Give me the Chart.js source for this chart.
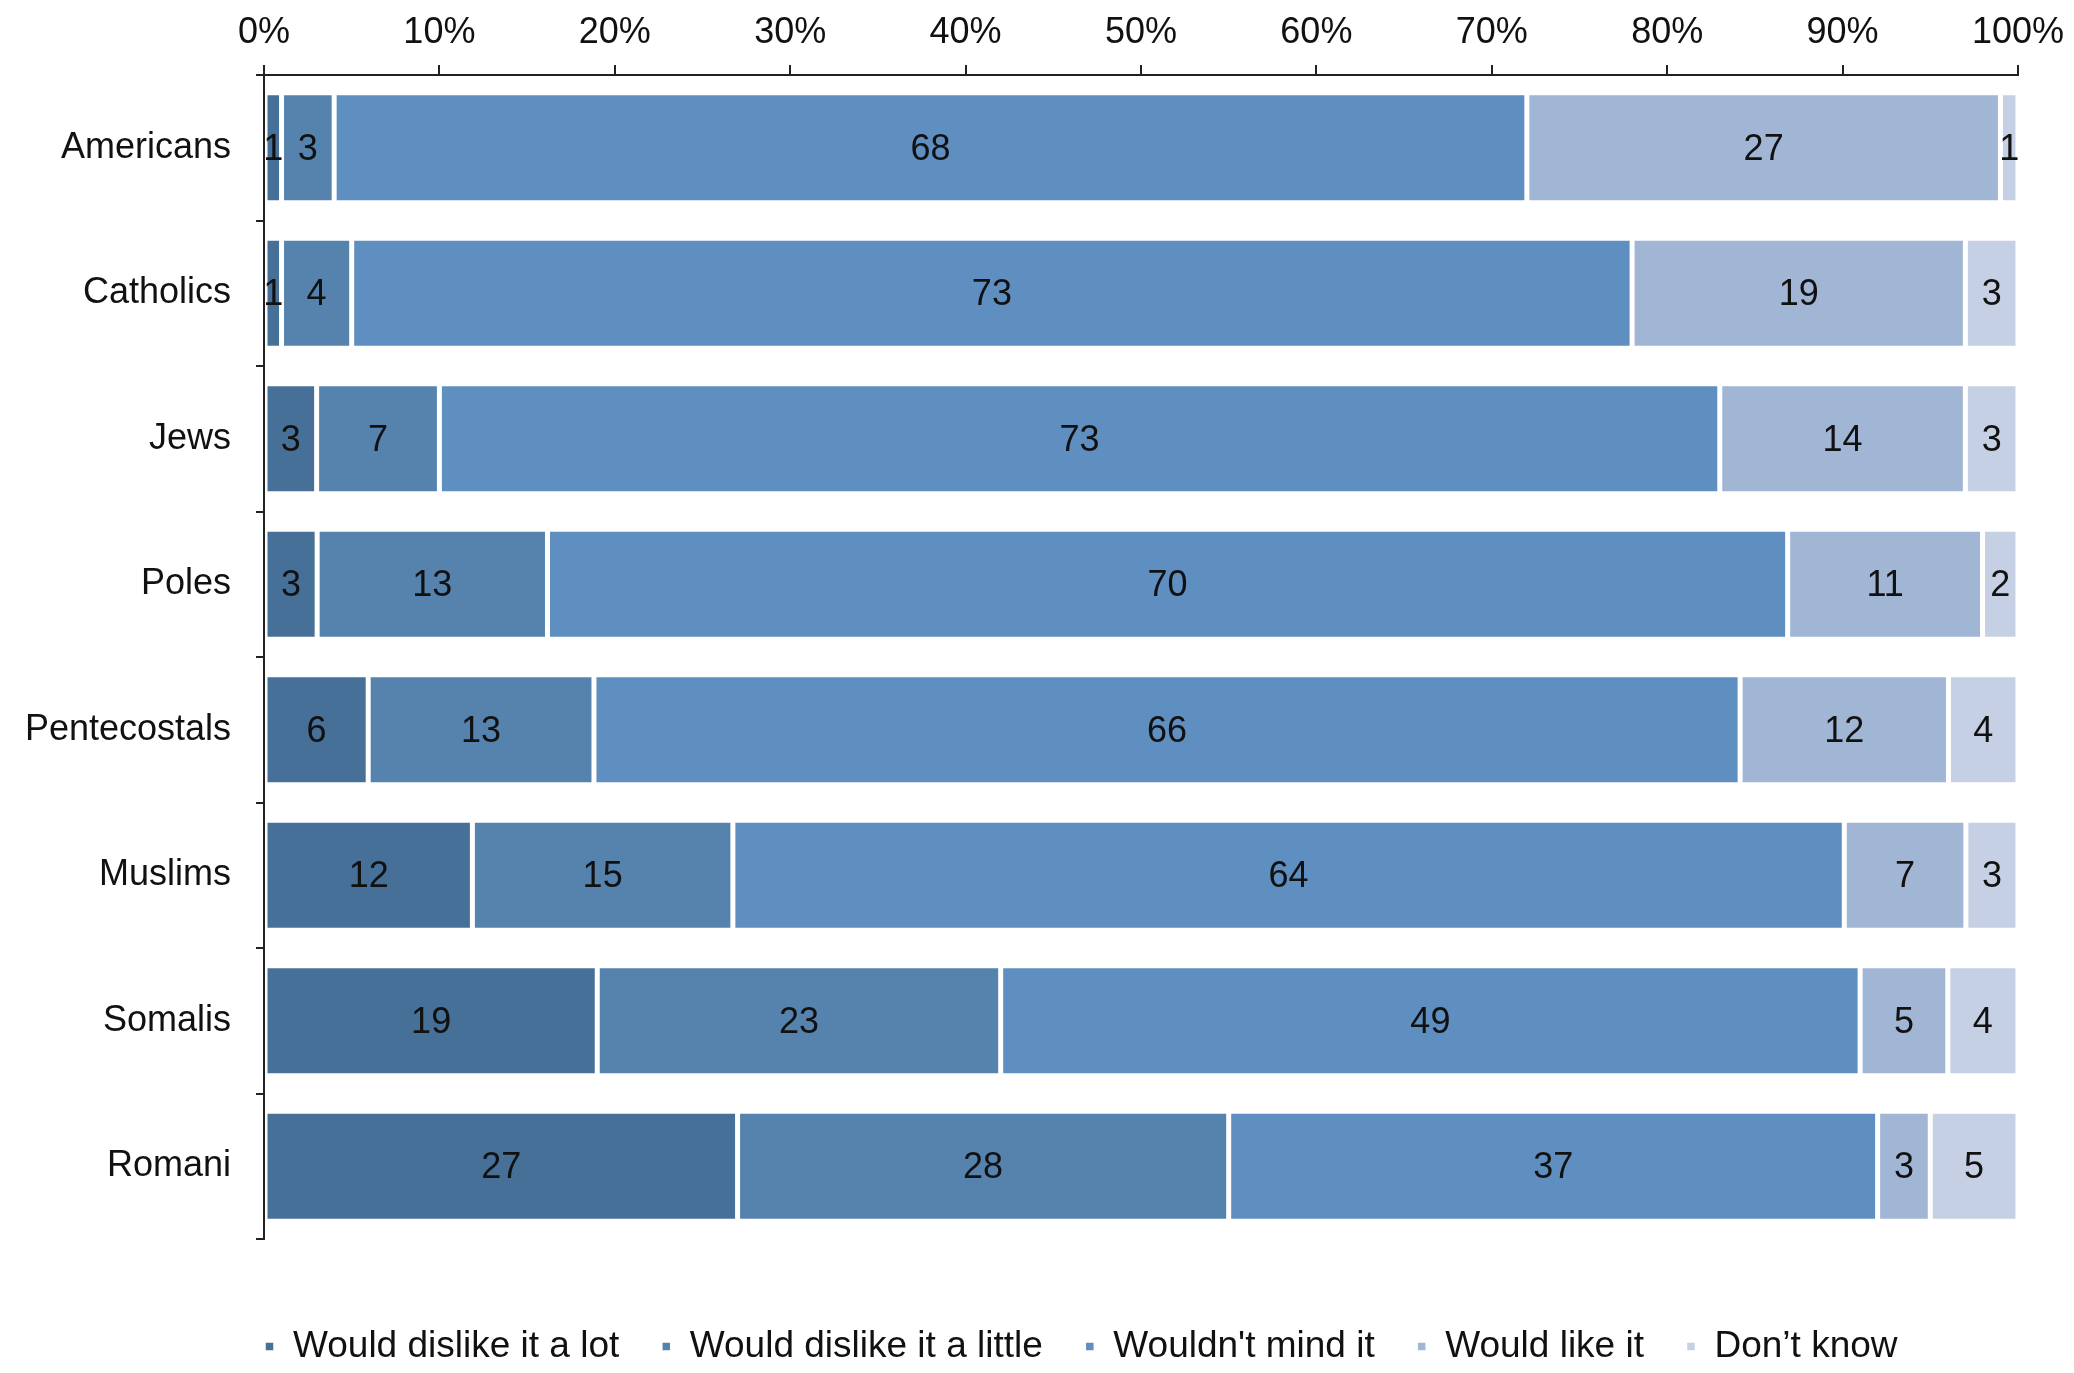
<!DOCTYPE html>
<html>
<head>
<meta charset="utf-8">
<script src="https://cdn.jsdelivr.net/npm/chart.js@4"></script>
<style>
  html, body { margin: 0; padding: 0; background: #fff; }
  #wrap { width: 2074px; height: 1373px; }
</style>
</head>
<body>
<div id="wrap"><canvas id="attitudeChart"></canvas></div>
<script>
// Values
const categories = ['Americans', 'Catholics', 'Jews', 'Poles', 'Pentecostals', 'Muslims', 'Somalis', 'Romani'];
const seriesNames = ['Would dislike it a lot', 'Would dislike it a little', "Wouldn't mind it", 'Would like it', 'Don\u2019t know'];
const dislikeLot    = [1, 1, 3, 3, 6, 12, 19, 27];
const dislikeLittle = [3, 4, 7, 13, 13, 15, 23, 28];
const wouldntMind   = [68, 73, 73, 70, 66, 64, 49, 37];
const wouldLike     = [27, 19, 14, 11, 12, 7, 5, 3];
const dontKnow      = [1, 3, 3, 2, 4, 3, 4, 5];
const seriesColors  = ['#467098', '#5583ae', '#5f8fc1', '#a1b5d5', '#c5d0e4'];

const allSeries = [dislikeLot, dislikeLittle, wouldntMind, wouldLike, dontKnow];
// 100% stacked: each row scaled to its own total
const totals = categories.map((c, i) => allSeries.reduce((s, arr) => s + arr[i], 0));

const FONT = 'Liberation Sans, Arial, Helvetica, sans-serif';

// draw the raw value in the middle of each segment
const segmentLabels = {
    id: 'segmentLabels',
    afterDatasetsDraw(chart) {
        const ctx = chart.ctx;
        ctx.save();
        ctx.font = '36px ' + FONT;
        ctx.fillStyle = '#111';
        ctx.textAlign = 'center';
        ctx.textBaseline = 'middle';
        chart.data.datasets.forEach((ds, di) => {
            chart.getDatasetMeta(di).data.forEach((el, i) => {
                const p = el.getCenterPoint();
                ctx.fillText(String(ds.raw[i]), p.x, p.y + 2);
            });
        });
        ctx.restore();
    }
};

// legend sits a bit right of the default centred spot
const legendNudge = {
    id: 'legendNudge',
    afterLayout(chart) {
        const lg = chart.legend;
        if (!lg) return;
        lg.top += 5; lg.bottom += 5;
        lg.left += 71; lg.right += 71;
    }
};

const ctx = document.getElementById('attitudeChart').getContext('2d');
const attitudeChart = new Chart(ctx, {
    type: 'bar',
    data: {
        labels: categories,
        datasets: allSeries.map((arr, k) => ({
            label: seriesNames[k],
            raw: arr,
            data: arr.map((v, i) => v / totals[i] * 100),
            backgroundColor: seriesColors[k],
            borderColor: '#ffffff',
            borderWidth: 2.5,
            borderSkipped: false,
            barPercentage: 0.755,
            categoryPercentage: 1
        }))
    },
    options: {
        indexAxis: 'y',
        responsive: true,
        maintainAspectRatio: false,
        devicePixelRatio: 1,
        animation: false,
        layout: { padding: { left: 0, right: 54, top: 0, bottom: 3 } },
        plugins: {
            tooltip: { enabled: false },
            legend: {
                position: 'bottom',
                labels: {
                    boxWidth: 10,
                    boxHeight: 10,
                    padding: 42,
                    color: '#111',
                    font: { family: FONT, size: 37 }
                }
            }
        },
        scales: {
            x: {
                position: 'top',
                stacked: true,
                min: 0,
                max: 100,
                ticks: {
                    stepSize: 10,
                    padding: 10,
                    color: '#111',
                    font: { family: FONT, size: 36 },
                    callback: v => v + '%'
                },
                grid: { drawOnChartArea: false, drawTicks: true, tickLength: 10, color: '#222', lineWidth: 2 },
                border: { color: '#222', width: 2 },
                afterFit: s => { s.height = 75; }
            },
            spacer: {
                type: 'linear',
                axis: 'x',
                position: 'bottom',
                grid: { display: false },
                border: { display: false },
                ticks: { display: false },
                afterFit: s => { s.height = 42; }
            },
            y: {
                stacked: true,
                ticks: {
                    padding: 25,
                    color: '#111',
                    font: { family: FONT, size: 36 }
                },
                grid: { drawOnChartArea: false, drawTicks: true, tickLength: 8, color: '#222', lineWidth: 2, offset: true },
                border: { color: '#222', width: 2 },
                afterFit: s => { s.width = 264; }
            }
        }
    },
    plugins: [segmentLabels, legendNudge]
});
</script>
</body>
</html>
